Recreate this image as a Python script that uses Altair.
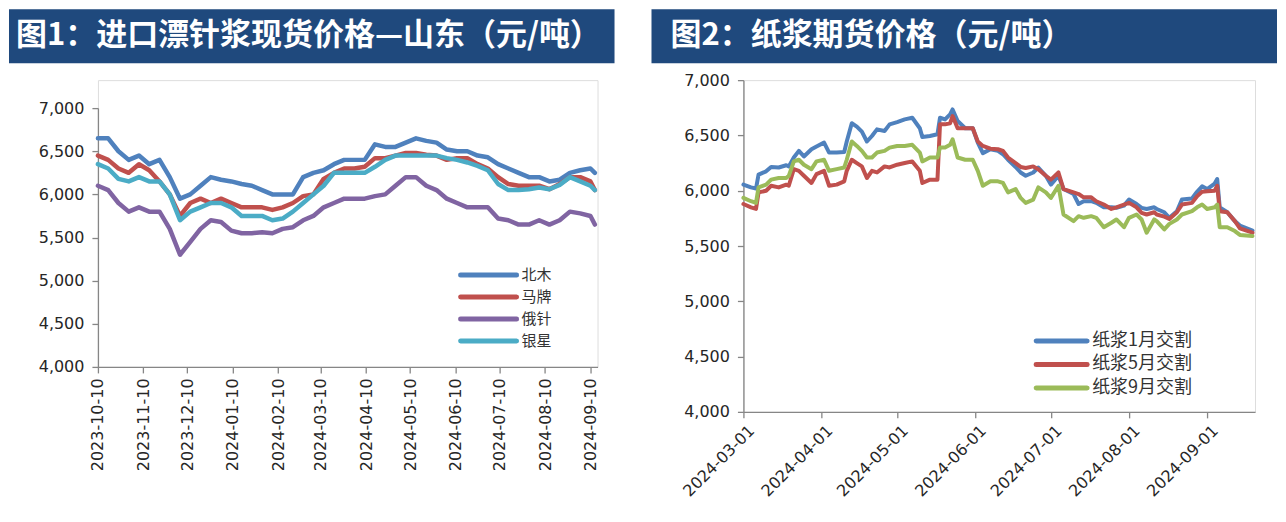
import altair as alt
import pandas as pd

BANNER = "#1F497D"
AX = "#868686"
LBL = "#262626"
NUM_FONT = "DejaVu Sans"
CJK = "Noto Sans CJK SC"

left_title = "图1：进口漂针浆现货价格—山东（元/吨）"
right_title = "图2：纸浆期货价格（元/吨）"

# ---------------- left chart data (weekly readings) ----------------
left_dates = [d.strftime("%Y-%m-%d") for d in pd.date_range("2023-10-10", periods=49, freq="7D")] + ["2024-09-13"]
left_names = ["北木", "马牌", "俄针", "银星"]
left_colors = ["#4F81BD", "#C0504D", "#8064A2", "#4BACC6"]
beimu = [6650, 6650, 6500, 6400, 6450, 6350, 6400, 6200, 5950, 6000,
         6100, 6200, 6170, 6150, 6120, 6100, 6050, 6000, 6000, 6000,
         6200, 6250, 6280, 6350, 6400, 6400, 6400, 6580, 6550, 6550,
         6600, 6650, 6620, 6600, 6520, 6500, 6500, 6450, 6430, 6350,
         6300, 6250, 6200, 6200, 6150, 6170, 6250, 6280, 6300, 6250]
mapai = [6450, 6400, 6300, 6250, 6350, 6280, 6150, 6000, 5750, 5900,
         5950, 5900, 5950, 5900, 5850, 5850, 5850, 5820, 5850, 5900,
         5980, 6000, 6180, 6250, 6300, 6300, 6320, 6420, 6420, 6450,
         6480, 6480, 6460, 6450, 6400, 6420, 6420, 6350, 6300, 6200,
         6120, 6100, 6100, 6100, 6060, 6120, 6200, 6200, 6150, 6050]
ezhen = [6100, 6050, 5900, 5800, 5850, 5800, 5800, 5600, 5300, 5450,
         5600, 5700, 5680, 5580, 5550, 5550, 5560, 5550, 5600, 5620,
         5700, 5750, 5850, 5900, 5950, 5950, 5950, 5980, 6000, 6100,
         6200, 6200, 6100, 6050, 5950, 5900, 5850, 5850, 5850, 5720,
         5700, 5650, 5650, 5700, 5650, 5700, 5800, 5780, 5750, 5650]
yinxing = [6350, 6300, 6180, 6150, 6200, 6150, 6150, 6000, 5700, 5800,
           5850, 5900, 5900, 5850, 5750, 5750, 5750, 5700, 5720, 5800,
           5900, 6000, 6100, 6250, 6250, 6250, 6250, 6320, 6400, 6450,
           6450, 6450, 6450, 6450, 6420, 6400, 6370, 6330, 6280, 6120,
           6050, 6050, 6060, 6080, 6060, 6110, 6200, 6150, 6100, 6050]
left_series = [beimu, mapai, ezhen, yinxing]
left_ticks = [(2023, 10), (2023, 11), (2023, 12), (2024, 1), (2024, 2), (2024, 3),
              (2024, 4), (2024, 5), (2024, 6), (2024, 7), (2024, 8), (2024, 9)]

# ---------------- right chart data ----------------
right_dates = ["2024-03-01", "2024-03-04", "2024-03-06", "2024-03-07", "2024-03-10", "2024-03-12", "2024-03-15", "2024-03-18", "2024-03-19", "2024-03-21",
               "2024-03-23", "2024-03-25", "2024-03-28", "2024-03-30", "2024-04-02", "2024-04-04", "2024-04-07", "2024-04-10", "2024-04-11", "2024-04-13",
               "2024-04-15", "2024-04-17", "2024-04-19", "2024-04-21", "2024-04-23", "2024-04-26", "2024-04-28", "2024-05-01", "2024-05-04", "2024-05-07",
               "2024-05-10", "2024-05-11", "2024-05-14", "2024-05-17", "2024-05-18", "2024-05-20", "2024-05-22", "2024-05-23", "2024-05-25", "2024-05-28",
               "2024-05-31", "2024-06-02", "2024-06-04", "2024-06-07", "2024-06-10", "2024-06-12", "2024-06-14", "2024-06-17", "2024-06-19", "2024-06-21",
               "2024-06-24", "2024-06-26", "2024-06-29", "2024-07-01", "2024-07-04", "2024-07-06", "2024-07-10", "2024-07-12", "2024-07-14", "2024-07-17",
               "2024-07-19", "2024-07-22", "2024-07-25", "2024-07-27", "2024-07-30", "2024-08-01", "2024-08-04", "2024-08-06", "2024-08-08", "2024-08-11",
               "2024-08-12", "2024-08-15", "2024-08-17", "2024-08-20", "2024-08-22", "2024-08-26", "2024-08-28", "2024-08-30", "2024-09-01", "2024-09-04",
               "2024-09-05", "2024-09-06", "2024-09-09", "2024-09-12", "2024-09-14", "2024-09-19"]
right_names = ["纸浆1月交割", "纸浆5月交割", "纸浆9月交割"]
right_colors = ["#4F81BD", "#C0504D", "#9BBB59"]
jan = [6055, 6030, 6020, 6145, 6175, 6215, 6210, 6230, 6220, 6300,
       6360, 6310, 6375, 6400, 6435, 6345, 6345, 6350, 6445, 6610,
       6580, 6535, 6445, 6495, 6555, 6540, 6600, 6620, 6645, 6660,
       6565, 6485, 6495, 6510, 6660, 6645, 6690, 6735, 6630, 6565,
       6565, 6435, 6340, 6375, 6360, 6330, 6280, 6215, 6165, 6135,
       6165, 6210, 6135, 6055, 6135, 6015, 5970, 5880, 5905, 5905,
       5890, 5850, 5850, 5845, 5865, 5920, 5880, 5845, 5835, 5850,
       5835, 5805, 5755, 5815, 5920, 5930, 5990, 6040, 6015, 6065,
       6105, 5850, 5805, 5725, 5685, 5640]
may = [5880, 5850, 5835, 5985, 6000, 6045, 6030, 6055, 6045, 6195,
       6180, 6135, 6070, 6150, 6180, 6045, 6055, 6085, 6180, 6280,
       6250, 6220, 6115, 6180, 6165, 6220, 6210, 6235, 6250, 6265,
       6180, 6070, 6100, 6100, 6600, 6600, 6610, 6675, 6565, 6565,
       6565, 6445, 6405, 6380, 6375, 6360, 6300, 6250, 6215, 6205,
       6220, 6195, 6135, 6100, 6165, 6015, 5985, 5970, 5940, 5940,
       5905, 5875, 5835, 5850, 5875, 5890, 5850, 5800, 5785, 5805,
       5785, 5765, 5745, 5805, 5875, 5890, 5950, 5990, 5995, 6000,
       6045, 5815, 5805, 5725, 5660, 5620]
sep = [5935, 5905, 5890, 6030, 6055, 6100, 6115, 6115, 6135, 6265,
       6280, 6235, 6195, 6265, 6280, 6180, 6195, 6210, 6280, 6445,
       6405, 6360, 6300, 6300, 6345, 6360, 6390, 6405, 6405, 6415,
       6345, 6265, 6300, 6300, 6390, 6390, 6415, 6465, 6300, 6280,
       6280, 6180, 6045, 6085, 6085, 6070, 5985, 6015, 5935, 5890,
       5920, 6030, 5985, 5935, 6045, 5785, 5725, 5770, 5755, 5770,
       5755, 5670, 5710, 5740, 5670, 5755, 5785, 5740, 5620, 5740,
       5725, 5650, 5700, 5740, 5785, 5815, 5850, 5875, 5835, 5850,
       5875, 5670, 5670, 5635, 5600, 5590]
right_series = [jan, may, sep]
right_ticks = [(2024, m) for m in range(3, 10)]

y_ticks = [4000, 4500, 5000, 5500, 6000, 6500, 7000]


def y_enc(rng=None):
    sc = dict(domain=[4000, 7000], nice=False, zero=False)
    if rng is not None:
        sc["range"] = rng
    return alt.Y("value:Q",
                 scale=alt.Scale(**sc),
                 axis=alt.Axis(values=y_ticks, format=",.0f", grid=False, title=None,
                               domainColor=AX, tickColor=AX, tickSize=6, labelPadding=8,
                               labelFont=NUM_FONT, labelFontSize=16, labelColor=LBL,
                               labelFlush=False, domainWidth=1.3, tickWidth=1.3))


def banner(title, x0, x1, y0, y1, tx, ty):
    d = alt.Data(values=[{"t": title}])
    rect = alt.Chart(d).mark_rect(color=BANNER).encode(
        x=alt.value(x0), x2=alt.value(x1), y=alt.value(y0), y2=alt.value(y1))
    text = alt.Chart(d).mark_text(align="left", baseline="middle", font=CJK, fontSize=31,
                                  fontWeight="bold", color="white").encode(
        x=alt.value(tx), y=alt.value(ty), text="t:N")
    return [rect, text]


def legend(names, colors, lx0, lx1, ly0, dy, tx, fs):
    layers = []
    for i, (n, c) in enumerate(zip(names, colors)):
        d = alt.Data(values=[{"t": n}])
        yy = ly0 + i * dy
        layers.append(alt.Chart(d).mark_rule(color=c, strokeWidth=5, strokeCap="round").encode(
            x=alt.value(lx0), x2=alt.value(lx1), y=alt.value(yy)))
        layers.append(alt.Chart(d).mark_text(align="left", baseline="middle", font=CJK,
                                             fontSize=fs, color="#333333").encode(
            x=alt.value(tx), y=alt.value(yy), text="t:N"))
    return layers


# ---------------- left panel ----------------
lx = alt.X("date:T",
           scale=alt.Scale(type="utc", domain=[alt.DateTime(year=2023, month=10, date=10, utc=True),
                                               alt.DateTime(year=2024, month=9, date=14, hours=20, utc=True)]),
           axis=alt.Axis(values=[alt.DateTime(year=y, month=m, date=10, utc=True) for y, m in left_ticks],
                         labelExpr="utcFormat(datum.value, '%Y-%m-%d')", title=None, grid=False,
                         labelAngle=270, labelAlign="right", labelBaseline="middle",
                         labelPadding=5, tickSize=6, labelOverlap=False, labelFlush=False,
                         domainColor=AX, tickColor=AX, labelFont=NUM_FONT, labelFontSize=16,
                         labelColor=LBL, domainWidth=1.3, tickWidth=1.3))
left_lines = []
for n, vals, c in zip(left_names, left_series, left_colors):
    df = pd.DataFrame({"date": left_dates, "value": vals, "series": n})
    left_lines.append(alt.Chart(df).mark_line(color=c, strokeWidth=4.5, strokeJoin="round",
                                              strokeCap="round").encode(x=lx, y=y_enc([287, 28])))

left = alt.layer(
    *left_lines,
    *banner(left_title, -89, 517, -71, -17, -82, -44),
    *legend(left_names, left_colors, 363, 419, 195, 22, 424, 15),
).properties(width=500, height=287)

# ---------------- right panel ----------------
rx = alt.X("date:T",
           scale=alt.Scale(type="utc", domain=[alt.DateTime(year=2024, month=3, date=1, utc=True),
                                               alt.DateTime(year=2024, month=9, date=20, utc=True)]),
           axis=alt.Axis(values=[alt.DateTime(year=y, month=m, date=1, utc=True) for y, m in right_ticks],
                         labelExpr="utcFormat(datum.value, '%Y-%m-%d')", title=None, grid=False,
                         labelAngle=315, labelAlign="right", labelBaseline="middle",
                         labelPadding=10, labelOffset=8, tickSize=6, labelOverlap=False,
                         labelFlush=False, domainColor=AX, tickColor=AX, labelFont=NUM_FONT,
                         labelFontSize=16, labelColor=LBL, domainWidth=1.3, tickWidth=1.3))
right_lines = []
for n, vals, c in zip(right_names, right_series, right_colors):
    df = pd.DataFrame({"date": right_dates, "value": vals, "series": n})
    right_lines.append(alt.Chart(df).mark_line(color=c, strokeWidth=4, strokeJoin="round",
                                               strokeCap="round").encode(x=rx, y=y_enc()))

right = alt.layer(
    *right_lines,
    *banner(right_title, -92, 534, -71, -17, -73, -44),
    *legend(right_names, right_colors, 293, 344, 261, 23.5, 349, 18),
).properties(width=512, height=332)

chart = alt.hconcat(left, right, spacing=35, padding=0).configure_view(stroke=None).configure(
    background="white")

chart.save("out.html", embed_options={"renderer": "svg", "actions": False})
